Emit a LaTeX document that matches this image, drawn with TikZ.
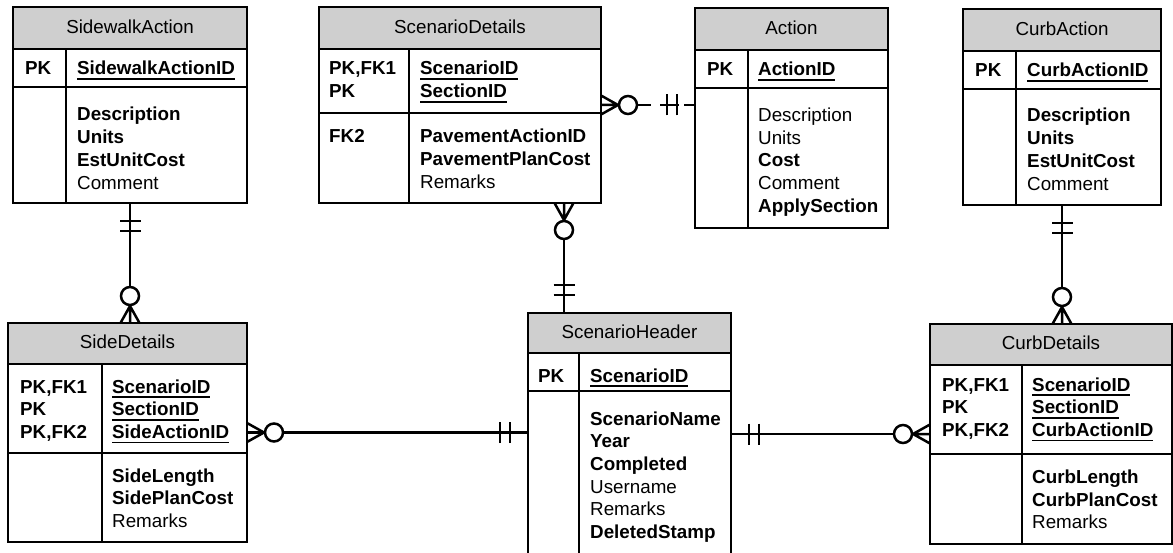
\documentclass[tikz,border=0pt]{standalone}
\usepackage{fontspec}
\setmainfont{Liberation Sans}
\usetikzlibrary{calc}

% underlined key attribute
\newcommand\ky[1]{\setbox0\hbox{#1}\rlap{\rule[-5pt]{\wd0}{1.7pt}}\box0}

\tikzset{
  frame/.style={draw, line width=2pt, inner sep=0pt, outer sep=0pt},
  rulestyle/.style={line width=2pt},
  hdr/.style={fill=black!19},
  conn/.style={line width=2.5pt},
  txt/.style={anchor=base west, inner sep=0pt, font=\fontsize{18.8}{22}\selectfont},
  ttl/.style={anchor=base, inner sep=0pt, font=\fontsize{18.8}{22}\selectfont},
  pics/many0/.style={code={
    \draw[conn] (0,-9.5) -- (17,0) -- (0,9.5) (0,0) -- (17,0);
    \draw[conn, fill=white] (27,0) circle[radius=9];
  }},
  pics/one1/.style={code={
    \draw[conn] (18,-10.5) -- (18,10.5) (28,-10.5) -- (28,10.5);
  }},
}

% entity frame: name, left, right, divider, top, header bottom, key bottom, bottom
\newcommand\erbox[8]{%
  \fill[hdr] (#2,#5) rectangle (#3,#6);
  \draw[rulestyle] (#2,#6) -- (#3,#6) (#2,#7) -- (#3,#7) (#4,#6) -- (#4,#8);
  \node[frame, anchor=north west, minimum width={#3-#2}, minimum height={#8-#5}] (#1) at (#2,#5) {};
}
% stacked text lines: prefix, x, first baseline, list
\newcommand\erlines[4]{%
  \foreach \t [count=\i from 0] in {#4}
    \node[txt] (#1-\i) at (#2, {#3+22.7*\i}) {\t};
}

\begin{document}
\begin{tikzpicture}[x=1pt, y=-1pt]
\clip (0,0) rectangle (1173,553);
\fill[white] (0,0) rectangle (1173,553);

% SidewalkAction
\erbox{sa}{13}{247}{66}{7}{49}{87}{203}
\node[ttl] (sa-t) at (130,34) {SidewalkAction};
\erlines{sa-kl}{25}{75}{{\bfseries PK}}
\erlines{sa-k}{77}{75}{{\ky{\bfseries SidewalkActionID}}}
\erlines{sa-a}{77}{121}{{\bfseries Description},{\bfseries Units},{\bfseries EstUnitCost},Comment}

% ScenarioDetails
\erbox{sd}{319}{601}{409}{7}{49}{113}{203}
\node[ttl] (sd-t) at (460,34) {ScenarioDetails};
\erlines{sd-kl}{329}{75}{{\bfseries PK,FK1},{\bfseries PK}}
\erlines{sd-k}{420}{75}{{\ky{\bfseries ScenarioID}},{\ky{\bfseries SectionID}}}
\erlines{sd-al}{329}{143}{{\bfseries FK2}}
\erlines{sd-a}{420}{143}{{\bfseries PavementActionID},{\bfseries PavementPlanCost},Remarks}

% Action
\erbox{ac}{695}{888}{748}{8}{50}{88}{228}
\node[ttl] (ac-t) at (791.5,35) {Action};
\erlines{ac-kl}{707}{76}{{\bfseries PK}}
\erlines{ac-k}{758}{76}{{\ky{\bfseries ActionID}}}
\erlines{ac-a}{758}{121.5}{Description,Units,{\bfseries Cost},Comment,{\bfseries ApplySection}}

% CurbAction
\erbox{ca}{963}{1161}{1016}{9}{51}{89}{205}
\node[ttl] (ca-t) at (1062,36) {CurbAction};
\erlines{ca-kl}{975}{77}{{\bfseries PK}}
\erlines{ca-k}{1027}{77}{{\ky{\bfseries CurbActionID}}}
\erlines{ca-a}{1027}{122}{{\bfseries Description},{\bfseries Units},{\bfseries EstUnitCost},Comment}

% SideDetails
\erbox{sde}{8}{247}{102}{323}{364}{453}{542}
\node[ttl] (sde-t) at (127.5,348.5) {SideDetails};
\erlines{sde-kl}{20}{393}{{\bfseries PK,FK1},{\bfseries PK},{\bfseries PK,FK2}}
\erlines{sde-k}{112}{393}{{\ky{\bfseries ScenarioID}},{\ky{\bfseries SectionID}},{\ky{\bfseries SideActionID}}}
\erlines{sde-a}{112}{482}{{\bfseries SideLength},{\bfseries SidePlanCost},Remarks}

% ScenarioHeader
\erbox{sh}{528}{731}{579}{313}{353}{391}{554}
\node[ttl] (sh-t) at (629.5,338.5) {ScenarioHeader};
\erlines{sh-kl}{538}{382}{{\bfseries PK}}
\erlines{sh-k}{590}{382}{{\ky{\bfseries ScenarioID}}}
\erlines{sh-a}{590}{425}{{\bfseries ScenarioName},{\bfseries Year},{\bfseries Completed},Username,Remarks,{\bfseries DeletedStamp}}

% CurbDetails
\erbox{cd}{930}{1172}{1022}{324}{365}{454}{544}
\node[ttl] (cd-t) at (1051,350) {CurbDetails};
\erlines{cd-kl}{942}{391}{{\bfseries PK,FK1},{\bfseries PK},{\bfseries PK,FK2}}
\erlines{cd-k}{1032}{391}{{\ky{\bfseries ScenarioID}},{\ky{\bfseries SectionID}},{\ky{\bfseries CurbActionID}}}
\erlines{cd-a}{1032}{483.5}{{\bfseries CurbLength},{\bfseries CurbPlanCost},Remarks}

% relationships
\path (sh.north west) ++(36,0) coordinate (shTop);

\draw[conn] (sa.south) -- (sa.south |- sde.north);
\pic[rotate=-90] at (sa.south) {one1};
\pic[rotate=90] at (sa.south |- sde.north) {many0};

\draw[conn] (ca.south) -- (ca.south |- cd.north);
\pic[rotate=-90] at (ca.south) {one1};
\pic[rotate=90] at (ca.south |- cd.north) {many0};

\draw[conn] (shTop |- sd.south) -- (shTop);
\pic[rotate=-90] at (shTop |- sd.south) {many0};
\pic[rotate=90] at (shTop) {one1};

\draw[conn] (sde.east) -- (sde.east -| sh.west);
\pic at (sde.east) {many0};
\pic[rotate=180] at (sde.east -| sh.west) {one1};

\draw[conn] (sh.east |- cd.west) -- (cd.west);
\pic at (sh.east |- cd.west) {one1};
\pic[rotate=180] at (cd.west) {many0};

\draw[conn, dash pattern=on 14pt off 9pt on 19pt off 5pt on 30pt]
  ($(sd.east)+(36,0)$) -- (sd.east -| ac.west);
\pic at (sd.east) {many0};
\pic[rotate=180] at (sd.east -| ac.west) {one1};
\end{tikzpicture}
\end{document}
